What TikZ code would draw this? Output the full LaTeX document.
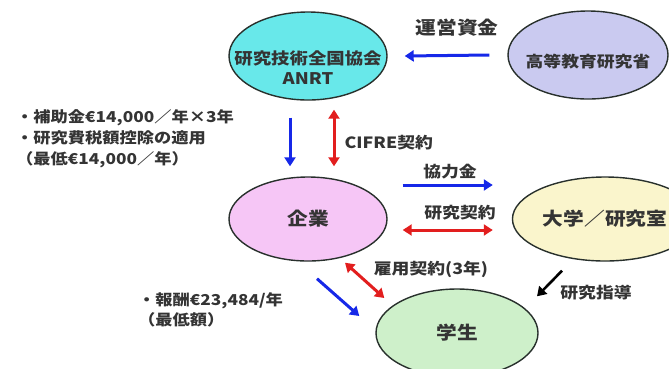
\documentclass[tikz,border=0pt]{standalone}
\usepackage{fontspec}
\usepackage{xcolor}
\usepackage{tikz}
\usetikzlibrary{arrows.meta, shapes.geometric}

\setmainfont{Noto Sans CJK JP}[FakeStretch=1.15]

\definecolor{anrtcyan}{RGB}{104,232,234}
\definecolor{ministrylilac}{RGB}{202,202,240}
\definecolor{firmpink}{RGB}{246,198,246}
\definecolor{labyellow}{RGB}{250,245,204}
\definecolor{studentgreen}{RGB}{206,240,202}
\definecolor{rimgray}{RGB}{40,48,44}
\definecolor{inkgray}{RGB}{52,52,52}
\definecolor{flowblue}{RGB}{22,40,232}
\definecolor{flowred}{RGB}{226,30,30}

\begin{document}
\begin{tikzpicture}[
  x=1pt,
  y=-1pt,
  font=\fontsize{15.5}{19}\selectfont\bfseries,
  text=inkgray,
  org/.style={ellipse, draw=rimgray, line width=1.4pt, minimum width=158pt, minimum height=84pt, align=center},
  big/.style={font=\fontsize{18}{22}\selectfont\bfseries},
  note/.style={anchor=west, inner sep=0pt, align=left},
  money/.style={-{Triangle[length=9pt,width=11pt]}, line width=3pt, draw=flowblue},
  pact/.style={{Triangle[length=9pt,width=11pt]}-{Triangle[length=9pt,width=11pt]}, line width=3pt, draw=flowred},
  guide/.style={-{Triangle[length=9pt,width=11pt]}, line width=2.6pt, draw=black}
]
\useasboundingbox (0,0) rectangle (669,368);

% Organisations
\node[org, fill=anrtcyan, minimum height=88pt,
  label={[yshift=-12pt, align=center, font=\fontsize{16}{20}\selectfont\bfseries]center:研究技術全国協会\\ANRT}] (anrt) at (308,56) {};
\node[org, fill=ministrylilac, minimum width=160pt, minimum height=88pt,
  label={[yshift=-7pt]center:高等教育研究省}] (ministry) at (588,55) {};
\node[org, fill=firmpink, big] (firm) at (308,219) {企業};
\node[org, fill=labyellow, big, minimum width=156pt] (lab) at (605,219) {大学／研究室};
\node[org, fill=studentgreen, big, minimum width=162pt, minimum height=88pt] (student) at (457,333) {学生};

% Flows of money and contracts
\draw[money] ([shift={(-18,0)}]ministry.west) -- ([shift={(17,0)}]anrt.east);
\draw[money] ([shift={(-18,17)}]anrt.south) -- ([shift={(-18,-10)}]firm.north);
\draw[pact] ([shift={(26,9)}]anrt.south) -- ([shift={(26,-10)}]firm.north);
\draw[money] ([shift={(15,-34)}]firm.east) -- ([shift={(-19,-34)}]lab.west);
\draw[pact] ([shift={(15,11)}]firm.east) -- ([shift={(-19,11)}]lab.west);
\draw[pact] ([shift={(37,1)}]firm.south) -- ([shift={(9,-35)}]student.west);
\draw[money] ([shift={(9,17)}]firm.south) -- ([shift={(-16,-17)}]student.west);
\draw[guide] ([shift={(-43,9)}]lab.south) -- ([shift={(80,8)}]student.north);

% Labels
\node[big] (fundlbl) at (457,28) {運営資金};
\node[anchor=west] (cifrelbl) at (341,143) {CIFRE契約};
\node (gantlbl) at (450,172) {協力金};
\node (researchlbl) at (460,213) {研究契約};
\node (hirelbl) at (431,269) {雇用契約(3年)};
\node (guidelbl) at (596,293) {研究指導};

% Notes on the left
\node[note, font=\fontsize{15}{21}\selectfont\bfseries] (aidnote) at (16,139)
  {・補助金€14,000／年×3年\\・研究費税額控除の適用\\（最低€14,000／年）};
\node[note, font=\fontsize{15}{20}\selectfont\bfseries] (paynote) at (138,310)
  {・報酬€23,484/年\\（最低額）};

\end{tikzpicture}
\end{document}
